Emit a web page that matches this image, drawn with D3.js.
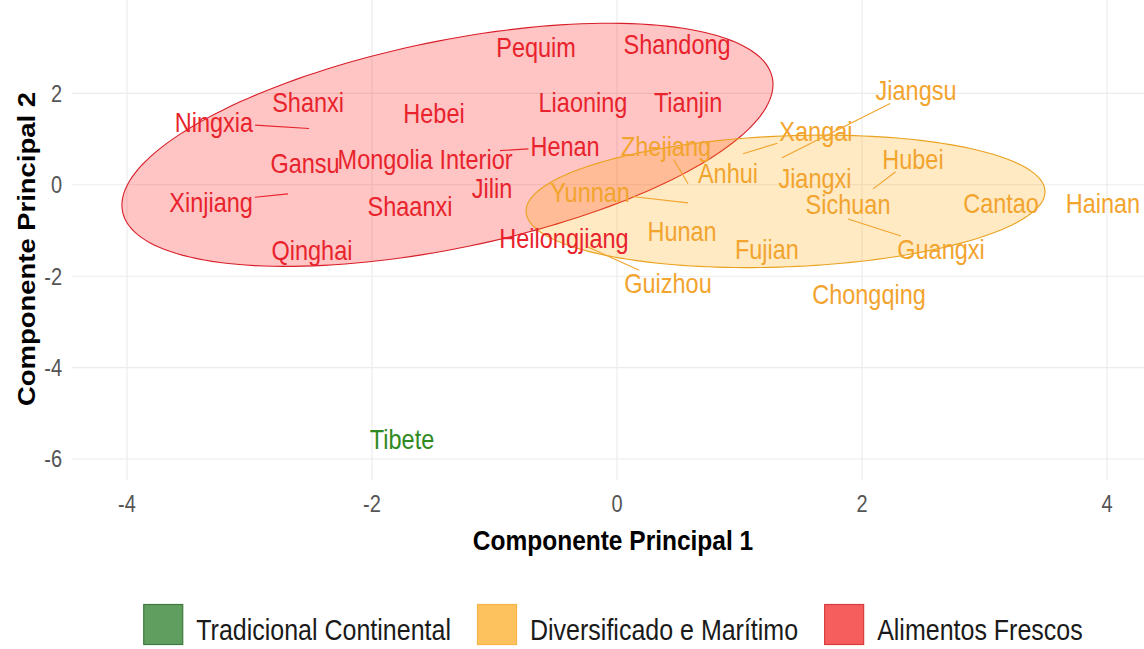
<!DOCTYPE html>
<html>
<head>
<meta charset="utf-8">
<script src="https://cdn.jsdelivr.net/npm/d3@7"></script>
<style>
  body { margin: 0; background: #fff; }
  text { font-family: "Liberation Sans", Arial, sans-serif; }
</style>
</head>
<body>
<svg id="chart" width="1144" height="649"></svg>
<script>
// ---- data (PCA scores, repelled label positions) ----
const provinces = ["Pequim", "Shandong", "Shanxi", "Ningxia", "Hebei", "Liaoning", "Tianjin", "Henan",
  "Gansu", "Mongolia Interior", "Jilin", "Xinjiang", "Shaanxi", "Qinghai", "Heilongjiang",
  "Jiangsu", "Xangai", "Zhejiang", "Hubei", "Anhui", "Jiangxi", "Yunnan", "Sichuan", "Cantao",
  "Hainan", "Hunan", "Fujian", "Guangxi", "Guizhou", "Chongqing", "Tibete"];
const clusters = ["Alimentos Frescos", "Alimentos Frescos", "Alimentos Frescos", "Alimentos Frescos",
  "Alimentos Frescos", "Alimentos Frescos", "Alimentos Frescos", "Alimentos Frescos",
  "Alimentos Frescos", "Alimentos Frescos", "Alimentos Frescos", "Alimentos Frescos",
  "Alimentos Frescos", "Alimentos Frescos", "Alimentos Frescos",
  "Diversificado e Marítimo", "Diversificado e Marítimo", "Diversificado e Marítimo",
  "Diversificado e Marítimo", "Diversificado e Marítimo", "Diversificado e Marítimo",
  "Diversificado e Marítimo", "Diversificado e Marítimo", "Diversificado e Marítimo",
  "Diversificado e Marítimo", "Diversificado e Marítimo", "Diversificado e Marítimo",
  "Diversificado e Marítimo", "Diversificado e Marítimo", "Diversificado e Marítimo",
  "Tradicional Continental"];
const labelPC1 = [-0.661, 0.490, -2.522, -3.290, -1.494, -0.278, 0.580, -0.424,
  -2.547, -1.567, -1.020, -3.314, -1.690, -2.490, -0.433,
  2.441, 1.624, 0.400, 2.416, 0.906, 1.616, -0.220, 1.886, 3.135,
  3.967, 0.531, 1.224, 2.645, 0.416, 2.057, -1.755];
const labelPC2 = [3.011, 3.077, 1.802, 1.363, 1.560, 1.802, 1.802, 0.835,
  0.484, 0.571, -0.066, -0.374, -0.462, -1.429, -1.165,
  2.066, 1.165, 0.835, 0.571, 0.264, 0.154, -0.154, -0.420, -0.396,
  -0.396, -1.011, -1.407, -1.407, -2.154, -2.396, -5.560];

// points whose label was pushed away (leader segments)
const segProvinces = ["Ningxia", "Xinjiang", "Henan", "Jiangsu", "Xangai", "Zhejiang", "Yunnan", "Hubei", "Guangxi", "Guizhou"];
const segPC1 = [-2.514, -2.686, -0.955, 1.347, 1.029, 0.580, 0.580, 2.090, 1.886, -0.237];
const segPC2 = [1.231, -0.198, 0.747, 0.593, 0.681, 0.022, -0.396, -0.088, -0.747, -1.363];

// normal ellipses: centre and two conjugate semi-axes (PC units)
const ellClusters = ["Alimentos Frescos", "Diversificado e Marítimo"];
const ellCx = [-1.384, 1.376];
const ellCy = [0.875, -0.363];
const ellUx = [2.652, 2.118];
const ellUy = [1.466, 0.226];
const ellVx = [0.171, 0.021];
const ellVy = [-2.220, -1.432];

const legendLabels = ["Tradicional Continental", "Diversificado e Marítimo", "Alimentos Frescos"];
const xTicks = [-4, -2, 0, 2, 4];
const yTicks = [-6, -4, -2, 0, 2];

// ---- styles ----
const TEXT_COLOR = {"Tradicional Continental": "#2f8a22", "Diversificado e Marítimo": "#f2a42e", "Alimentos Frescos": "#e8232c"};
const FILL_COLOR = {"Tradicional Continental": "#228B22", "Diversificado e Marítimo": "#FFA500", "Alimentos Frescos": "#FF0000"};
const STROKE_COLOR = {"Diversificado e Marítimo": "#eaa21e", "Alimentos Frescos": "#d81e28"};
const KEY_FILL = {"Tradicional Continental": "#5f9e5f", "Diversificado e Marítimo": "#fdc25e", "Alimentos Frescos": "#f65e5e"};
const KEY_STROKE = {"Tradicional Continental": "#3f7a3f", "Diversificado e Marítimo": "#f4b448", "Alimentos Frescos": "#d83c3c"};
const VSTRETCH = 1.16;

const svg = d3.select("svg#chart");

const x = d3.scaleLinear().domain([-4.449, 4.302]).range([72, 1144]);
const y = d3.scaleLinear().domain([-6.46, 4.044]).range([480, 0]);

// text with the original's tall, narrow look
function stretchedText(g, px, py, txt, size, opts) {
	opts = opts || {};
	let t = g.append("text")
		.text(txt)
		.attr("transform", `translate(${px},${py}) scale(1,${opts.k || VSTRETCH})` + (opts.rotate ? ` rotate(${opts.rotate})` : ""))
		.attr("dy", "0.36em")
		.attr("font-size", size)
		.attr("text-anchor", opts.anchor || "middle")
		.attr("fill", opts.fill || "#000")
		.attr("font-weight", opts.weight || "normal")
		;
	return t;
}

// grid
const grid = svg.append("g");
grid.selectAll("line.vx").data(xTicks).join("line")
	.attr("x1", d => x(d)).attr("x2", d => x(d))
	.attr("y1", 0).attr("y2", 480)
	.attr("stroke", "#ebebeb").attr("stroke-width", 1.1)
	;
grid.selectAll("line.hy").data(yTicks).join("line")
	.attr("x1", 72).attr("x2", 1144)
	.attr("y1", d => y(d)).attr("y2", d => y(d))
	.attr("stroke", "#ebebeb").attr("stroke-width", 1.1)
	;

// tick labels
const ticks = svg.append("g");
xTicks.forEach(v => stretchedText(ticks, x(v), 504, v, 20, {fill: "#555"}));
yTicks.forEach(v => stretchedText(ticks, 62, y(v), v, 20, {fill: "#555", anchor: "end"}));

// axis titles
stretchedText(svg, 613, 540, "Componente Principal 1", 24.5, {weight: "bold", k: 1.1});
stretchedText(svg, 26, 249, "Componente Principal 2", 24.5, {weight: "bold", k: 1.12, rotate: -90});

// ellipses
const ellLine = d3.line().x(d => x(d[0])).y(d => y(d[1])).curve(d3.curveLinearClosed);
const angles = d3.range(0, 2 * Math.PI, Math.PI / 90);
const ellG = svg.append("g");
ellClusters.forEach((c, i) => {
	let pts = angles.map(a => [
		ellCx[i] + ellUx[i] * Math.cos(a) + ellVx[i] * Math.sin(a),
		ellCy[i] + ellUy[i] * Math.cos(a) + ellVy[i] * Math.sin(a)
	]);
	ellG.append("path")
		.attr("d", ellLine(pts))
		.attr("fill", FILL_COLOR[c])
		.attr("fill-opacity", 0.23)
		.attr("stroke", STROKE_COLOR[c])
		.attr("stroke-width", 1.1)
		;
});

// labels
const labG = svg.append("g");
const segG = svg.insert("g", () => labG.node());
provinces.forEach((p, i) => {
	let c = clusters[i];
	let t = stretchedText(labG, x(labelPC1[i]), y(labelPC2[i]), p, 23.5, {fill: TEXT_COLOR[c]});
	let k = segProvinces.indexOf(p);
	if (k < 0) return;
	// segment from the point to the edge of the label box
	let w = t.node().getComputedTextLength();
	let cx = x(labelPC1[i]), cy = y(labelPC2[i]);
	let px = x(segPC1[k]), py = y(segPC2[k]);
	let dx = px - cx, dy = py - cy;
	let hw = w / 2 + 2, hh = 13;
	let s = Math.min(dx ? hw / Math.abs(dx) : Infinity, dy ? hh / Math.abs(dy) : Infinity);
	if (s >= 1) return;
	segG.append("line")
		.attr("x1", px).attr("y1", py)
		.attr("x2", cx + dx * s).attr("y2", cy + dy * s)
		.attr("stroke", TEXT_COLOR[c])
		.attr("stroke-width", 1.1)
		;
});

// legend
const legG = svg.append("g");
const KEY = 40, GAP = 13, ITEM_GAP = 26;
let widths = legendLabels.map(l => {
	let tmp = legG.append("text").text(l).attr("font-size", 25);
	let w = tmp.node().getComputedTextLength();
	tmp.remove();
	return w;
});
let total = d3.sum(widths) + legendLabels.length * (KEY + GAP) + (legendLabels.length - 1) * ITEM_GAP;
let lx = 613 - total / 2;
legendLabels.forEach((l, i) => {
	legG.append("rect")
		.attr("x", lx + 0.5).attr("y", 604.5)
		.attr("width", KEY - 1).attr("height", KEY)
		.attr("fill", KEY_FILL[l])
		.attr("stroke", KEY_STROKE[l])
		.attr("stroke-width", 1.2)
		;
	stretchedText(legG, lx + KEY + GAP, 629, l, 25, {anchor: "start", fill: "#1a1a1a", k: 1.2});
	lx += KEY + GAP + widths[i] + ITEM_GAP;
});
</script>
</body>
</html>
